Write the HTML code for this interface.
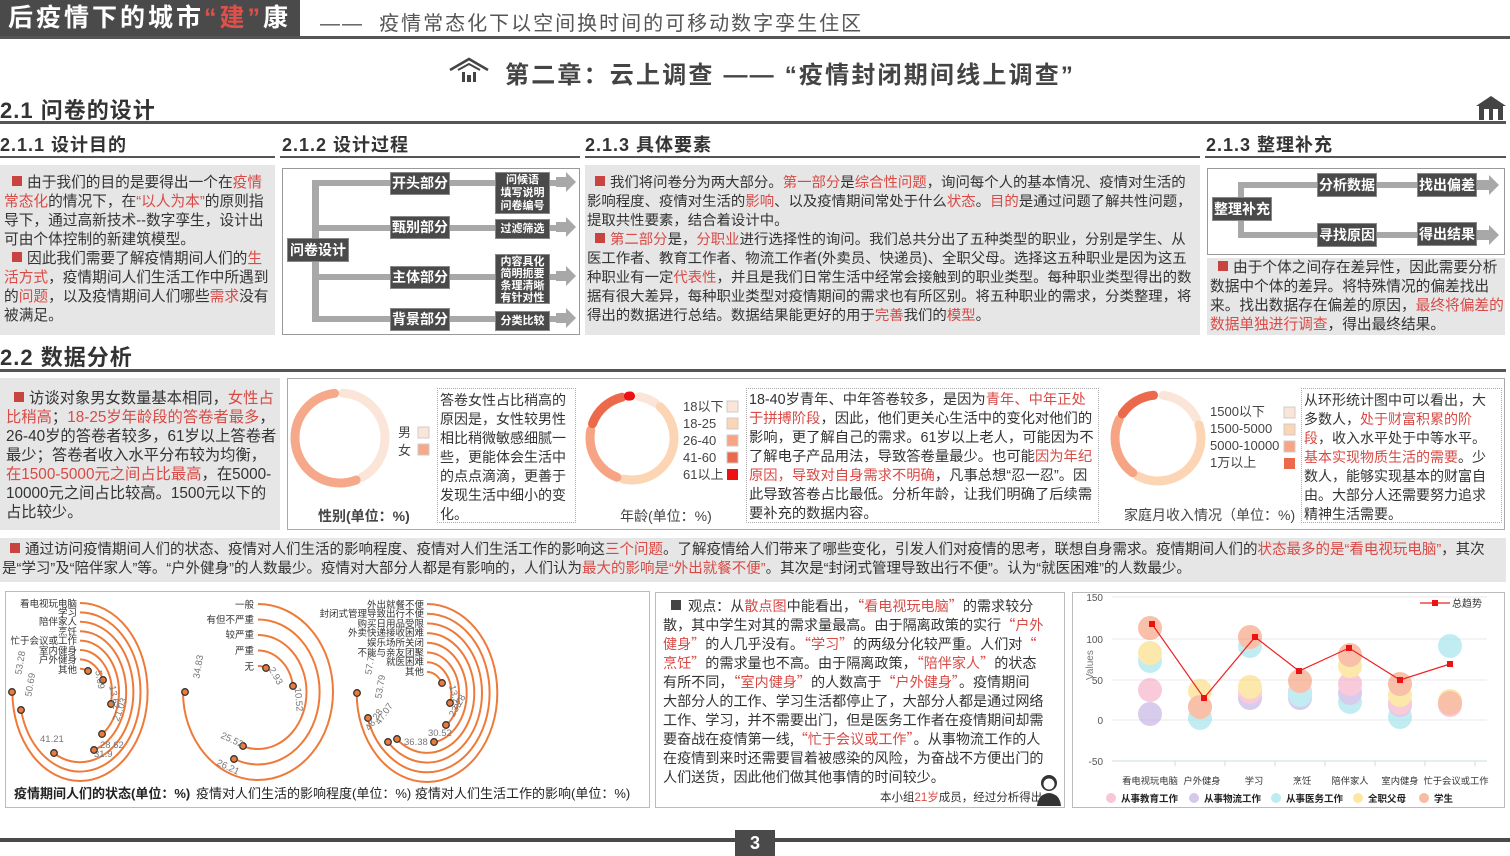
<!DOCTYPE html>
<html><head><meta charset="utf-8">
<style>
*{margin:0;padding:0;box-sizing:border-box}
body{width:1510px;height:856px;background:#fff;position:relative;overflow:hidden;font-family:"Liberation Sans","Noto Sans CJK SC",sans-serif;color:#333}
.a{position:absolute}
.r{color:#d94a45}
.t{font-size:14.5px;line-height:19px;color:#333}
.h2{font-size:22px;color:#333;letter-spacing:1px;font-weight:bold}
.h3{font-size:18px;color:#333;font-weight:bold;letter-spacing:1px}
.ln{position:absolute;background:#555}
.gb{background:#e6e6e6}
.sq{display:inline-block;width:10px;height:10px;background:#c9433f;margin:0 5px 1px 8px}
.fb{position:absolute;background:#4a4a4a;color:#fff;font-size:14px;font-weight:bold;text-align:center;border:1px solid #888}
.gr{position:absolute;background:#a8a8a8}
</style></head><body>

<!-- header -->
<div class="a" style="left:0;top:0;width:300px;height:37px;background:#4a4a4a;color:#fff;font-size:25px;font-weight:bold;line-height:37px;padding-left:8px;letter-spacing:3px">后疫情下的城市<span style="color:#e0504b">“建”</span>康</div>
<div class="a" style="left:320px;top:7px;font-size:20px;color:#555;letter-spacing:2px">——&nbsp;&nbsp;疫情常态化下以空间换时间的可移动数字孪生住区</div>
<div class="ln" style="left:0;top:36px;width:1510px;height:3px"></div>

<svg class="a" style="left:448px;top:56px" width="42" height="28" viewBox="0 0 42 28"><path d="M2 14 L21 3 L40 14" fill="none" stroke="#444" stroke-width="2.5"/><path d="M10 14 L21 8 L32 14" fill="none" stroke="#444" stroke-width="2"/><rect x="14" y="16" width="3" height="10" fill="#444"/><rect x="25" y="16" width="3" height="10" fill="#444"/><rect x="19" y="19" width="4" height="7" fill="#444"/></svg>
<div class="a" style="left:505px;top:55px;font-size:24px;font-weight:bold;color:#444;letter-spacing:2.2px">第二章：云上调查 —— “疫情封闭期间线上调查”</div>

<div class="a h2" style="left:0;top:93px">2.1 问卷的设计</div>
<svg class="a" style="left:1474px;top:94px" width="34" height="28"><path d="M2 12 L17 2 L32 12 Z" fill="#444"/><rect x="5" y="12" width="24" height="14" fill="#444"/><rect x="10" y="15" width="5" height="11" fill="#fff"/><rect x="19" y="15" width="5" height="11" fill="#fff"/></svg>
<div class="ln" style="left:0;top:121px;width:1506px;height:3px"></div>

<div class="a h3" style="left:0;top:131px">2.1.1 设计目的</div>
<div class="a h3" style="left:282px;top:131px">2.1.2 设计过程</div>
<div class="a h3" style="left:585px;top:131px">2.1.3 具体要素</div>
<div class="a h3" style="left:1206px;top:131px">2.1.3 整理补充</div>
<div class="ln" style="left:0;top:156px;width:275px;height:2px"></div>
<div class="ln" style="left:280px;top:156px;width:300px;height:2px"></div>
<div class="ln" style="left:585px;top:156px;width:615px;height:2px"></div>
<div class="ln" style="left:1205px;top:156px;width:301px;height:2px"></div>

<div class="a gb t" style="left:0;top:165px;width:275px;height:170px;padding:9px 3px 0 4px;font-size:14.7px"><span class="sq"></span>由于我们的目的是要得出一个在<span class="r">疫情常态化</span>的情况下，在<span class="r">“以人为本”</span>的原则指导下，通过高新技术--数字孪生，设计出可由个体控制的新建筑模型。<br><span class="sq"></span>因此我们需要了解疫情期间人们的<span class="r">生活方式</span>，疫情期间人们生活工作中所遇到的<span class="r">问题</span>，以及疫情期间人们哪些<span class="r">需求</span>没有被满足。</div>

<!-- flowchart 1 -->
<div class="a" style="left:282px;top:168px;width:298px;height:167px;border:1px solid #999"></div>
<div class="gr" style="left:312px;top:180px;width:7px;height:142px"></div>
<div class="gr" style="left:312px;top:180px;width:80px;height:6px"></div>
<div class="gr" style="left:312px;top:225px;width:80px;height:6px"></div>
<div class="gr" style="left:312px;top:274px;width:80px;height:6px"></div>
<div class="gr" style="left:312px;top:316px;width:80px;height:6px"></div>
<div class="gr" style="left:450px;top:180px;width:110px;height:6px"></div>
<div class="gr" style="left:450px;top:225px;width:110px;height:6px"></div>
<div class="gr" style="left:450px;top:274px;width:110px;height:6px"></div>
<div class="gr" style="left:450px;top:316px;width:110px;height:6px"></div>
<svg class="a" style="left:556px;top:172px" width="22" height="160"><path d="M0 5 L10 5 L10 0 L20 10 L10 20 L10 15 L0 15Z" fill="#a8a8a8"/><path d="M0 50 L10 50 L10 45 L20 55 L10 65 L10 60 L0 60Z" fill="#a8a8a8"/><path d="M0 99 L10 99 L10 94 L20 104 L10 114 L10 109 L0 109Z" fill="#a8a8a8"/><path d="M0 141 L10 141 L10 136 L20 146 L10 156 L10 151 L0 151Z" fill="#a8a8a8"/></svg>
<div class="fb" style="left:287px;top:238px;width:62px;height:24px;line-height:22px">问卷设计</div>
<div class="fb" style="left:390px;top:172px;width:60px;height:23px;line-height:21px">开头部分</div>
<div class="fb" style="left:390px;top:216px;width:60px;height:23px;line-height:21px">甄别部分</div>
<div class="fb" style="left:390px;top:266px;width:60px;height:23px;line-height:21px">主体部分</div>
<div class="fb" style="left:390px;top:308px;width:60px;height:23px;line-height:21px">背景部分</div>
<div class="fb" style="left:495px;top:172px;width:55px;height:42px;font-size:11px;line-height:13px;padding-top:1px">问候语<br>填写说明<br>问卷编号</div>
<div class="fb" style="left:495px;top:219px;width:55px;height:20px;font-size:11px;line-height:18px">过滤筛选</div>
<div class="fb" style="left:495px;top:254px;width:55px;height:50px;font-size:11px;line-height:12px;padding-top:1px">内容具化<br>简明扼要<br>条理清晰<br>有针对性</div>
<div class="fb" style="left:495px;top:311px;width:55px;height:20px;font-size:11px;line-height:18px">分类比较</div>

<div class="a gb t" style="left:585px;top:165px;width:615px;height:170px;padding:9px 3px 0 2px;font-size:14.4px"><span class="sq"></span>我们将问卷分为两大部分。<span class="r">第一部分</span>是<span class="r">综合性问题</span>，询问每个人的基本情况、疫情对生活的影响程度、疫情对生活的<span class="r">影响</span>、以及疫情期间常处于什么<span class="r">状态</span>。<span class="r">目的</span>是通过问题了解共性问题，提取共性要素，结合着设计中。<br><span class="sq"></span><span class="r">第二部分</span>是，<span class="r">分职业</span>进行选择性的询问。我们总共分出了五种类型的职业，分别是学生、从医工作者、教育工作者、物流工作者(外卖员、快递员)、全职父母。选择这五种职业是因为这五种职业有一定<span class="r">代表性</span>，并且是我们日常生活中经常会接触到的职业类型。每种职业类型得出的数据有很大差异，每种职业类型对疫情期间的需求也有所区别。将五种职业的需求，分类整理，将得出的数据进行总结。数据结果能更好的用于<span class="r">完善</span>我们的<span class="r">模型</span>。</div>

<!-- flowchart 2 -->
<div class="a" style="left:1207px;top:168px;width:298px;height:87px;border:1px solid #999"></div>
<div class="gr" style="left:1238px;top:183px;width:6px;height:55px"></div>
<div class="gr" style="left:1238px;top:182px;width:80px;height:6px"></div>
<div class="gr" style="left:1238px;top:232px;width:80px;height:6px"></div>
<div class="gr" style="left:1377px;top:182px;width:42px;height:6px"></div>
<div class="gr" style="left:1377px;top:232px;width:42px;height:6px"></div>
<svg class="a" style="left:1477px;top:175px" width="26" height="70"><path d="M0 5 L12 5 L12 0 L22 10 L12 20 L12 15 L0 15Z" fill="#a8a8a8"/><path d="M0 55 L12 55 L12 50 L22 60 L12 70 L12 65 L0 65Z" fill="#a8a8a8"/></svg>
<div class="fb" style="left:1212px;top:197px;width:60px;height:24px;line-height:22px">整理补充</div>
<div class="fb" style="left:1317px;top:173px;width:60px;height:24px;line-height:22px">分析数据</div>
<div class="fb" style="left:1317px;top:223px;width:60px;height:24px;line-height:22px">寻找原因</div>
<div class="fb" style="left:1417px;top:173px;width:60px;height:24px;line-height:22px">找出偏差</div>
<div class="fb" style="left:1417px;top:222px;width:60px;height:24px;line-height:22px">得出结果</div>
<div class="a gb t" style="left:1207px;top:258px;width:298px;height:77px;padding:1px 0 0 3px;font-size:14.7px"><span class="sq"></span>由于个体之间存在差异性，因此需要分析数据中个体的差异。将特殊情况的偏差找出来。找出数据存在偏差的原因，<span class="r">最终将偏差的数据单独进行调查</span>，得出最终结果。</div>

<div class="a h2" style="left:0;top:340px">2.2 数据分析</div>
<div class="ln" style="left:0;top:369px;width:1506px;height:3px"></div>

<div class="a gb t" style="left:0;top:378px;width:280px;height:152px;padding:11px 3px 0 6px;font-size:15.3px"><span class="sq"></span>访谈对象男女数量基本相同，<span class="r">女性占比稍高</span>；<span class="r">18-25岁年龄段的答卷者最多</span>，26-40岁的答卷者较多，61岁以上答卷者最少；答卷者收入水平分布较为均衡，<span class="r">在1500-5000元之间占比最高</span>，在5000-10000元之间占比较高。1500元以下的占比较少。</div>

<!-- donut row -->
<div class="a" style="left:287px;top:378px;width:1218px;height:152px;border:1px solid #aaa"></div>
<svg class="a" style="left:0;top:0" width="1510" height="856">
 <g fill="none" stroke-width="9" stroke-linecap="round">
  <circle cx="340" cy="438" r="45" transform="rotate(-90 340 438)" pathLength="360" stroke="#fbe5d8" stroke-dasharray="147 360" stroke-dashoffset="-4"/>
  <circle cx="340" cy="438" r="45" transform="rotate(-90 340 438)" pathLength="360" stroke="#f6a98a" stroke-dasharray="194 360" stroke-dashoffset="-159"/>
  <circle cx="632" cy="438" r="42" transform="rotate(-90 632 438)" pathLength="360" stroke="#fbe5d8" stroke-dasharray="24 360" stroke-dashoffset="-10"/>
  <circle cx="632" cy="438" r="42" transform="rotate(-90 632 438)" pathLength="360" stroke="#fcd5b5" stroke-dasharray="150 360" stroke-dashoffset="-42"/>
  <circle cx="632" cy="438" r="42" transform="rotate(-90 632 438)" pathLength="360" stroke="#f6a483" stroke-dasharray="80 360" stroke-dashoffset="-201"/>
  <circle cx="632" cy="438" r="42" transform="rotate(-90 632 438)" pathLength="360" stroke="#ec6a4c" stroke-dasharray="56 360" stroke-dashoffset="-290"/>
  <circle cx="632" cy="438" r="42" transform="rotate(-90 632 438)" pathLength="360" stroke="#ee1111" stroke-dasharray="3 360" stroke-dashoffset="-355"/>
  <circle cx="1158" cy="438" r="43" transform="rotate(-90 1158 438)" pathLength="360" stroke="#fbe5d8" stroke-dasharray="56 360" stroke-dashoffset="-7"/>
  <circle cx="1158" cy="438" r="43" transform="rotate(-90 1158 438)" pathLength="360" stroke="#fcd5b5" stroke-dasharray="136 360" stroke-dashoffset="-72"/>
  <circle cx="1158" cy="438" r="43" transform="rotate(-90 1158 438)" pathLength="360" stroke="#f6a483" stroke-dasharray="80 360" stroke-dashoffset="-216"/>
  <circle cx="1158" cy="438" r="43" transform="rotate(-90 1158 438)" pathLength="360" stroke="#ec6a4c" stroke-dasharray="50 360" stroke-dashoffset="-304"/>
 </g>
 <g font-size="13" fill="#444" font-family="Liberation Sans,Noto Sans CJK SC,sans-serif">
  <text x="398" y="437">男</text><rect x="418" y="427" width="11" height="11" fill="#fbe5d8" stroke="#ccc"/>
  <text x="398" y="455">女</text><rect x="418" y="444" width="11" height="11" fill="#f6a98a" stroke="#ccc"/>
  <text x="683" y="411">18以下</text><rect x="727" y="401" width="11" height="11" fill="#fbe5d8" stroke="#ccc"/>
  <text x="683" y="428">18-25</text><rect x="727" y="418" width="11" height="11" fill="#fcd5b5" stroke="#ccc"/>
  <text x="683" y="445">26-40</text><rect x="727" y="435" width="11" height="11" fill="#f6a483" stroke="#ccc"/>
  <text x="683" y="462">41-60</text><rect x="727" y="452" width="11" height="11" fill="#ec6a4c" stroke="#ccc"/>
  <text x="683" y="479">61以上</text><rect x="727" y="469" width="11" height="11" fill="#ee1111"/>
  <text x="1210" y="416">1500以下</text><rect x="1284" y="407" width="11" height="11" fill="#fbe5d8" stroke="#ccc"/>
  <text x="1210" y="433">1500-5000</text><rect x="1284" y="424" width="11" height="11" fill="#fcd5b5" stroke="#ccc"/>
  <text x="1210" y="450">5000-10000</text><rect x="1284" y="441" width="11" height="11" fill="#f6a483" stroke="#ccc"/>
  <text x="1210" y="467">1万以上</text><rect x="1284" y="458" width="11" height="11" fill="#ec6a4c"/>
  <text x="318" y="521" font-size="14" font-weight="bold">性别(单位：%)</text>
  <text x="620" y="521" font-size="14">年龄(单位：%)</text>
  <text x="1124" y="520" font-size="14">家庭月收入情况（单位：%)</text>
 </g>
</svg>
<div class="a t" style="left:437px;top:388px;width:139px;height:135px;border:1px dotted #aaa;padding:2px 2px;font-size:14px;line-height:19px">答卷女性占比稍高的原因是，女性较男性相比稍微敏感细腻一些，更能体会生活中的点点滴滴，更善于发现生活中细小的变化。</div>
<div class="a t" style="left:746px;top:388px;width:353px;height:135px;border:1px dotted #aaa;padding:2px 2px;font-size:14.3px;line-height:19px">18-40岁青年、中年答卷较多，是因为<span class="r">青年、中年正处于拼搏阶段</span>，因此，他们更关心生活中的变化对他们的影响，更了解自己的需求。61岁以上老人，可能因为不了解电子产品用法，导致答卷量最少。也可能<span class="r">因为年纪原因，导致对自身需求不明确</span>，凡事总想“忍一忍”。因此导致答卷占比最低。分析年龄，让我们明确了后续需要补充的数据内容。</div>
<div class="a t" style="left:1301px;top:388px;width:201px;height:135px;border:1px dotted #aaa;padding:2px 2px;font-size:14px;line-height:19px">从环形统计图中可以看出，大多数人，<span class="r">处于财富积累的阶段</span>，收入水平处于中等水平。<span class="r">基本实现物质生活的需要</span>。少数人，能够实现基本的财富自由。大部分人还需要努力追求精神生活需要。</div>

<div class="a gb t" style="left:0;top:538px;width:1506px;height:44px;padding:3px 2px 0 2px;font-size:14.5px;line-height:19px"><span class="sq"></span>通过访问疫情期间人们的状态、疫情对人们生活的影响程度、疫情对人们生活工作的影响这<span class="r">三个问题</span>。了解疫情给人们带来了哪些变化，引发人们对疫情的思考，联想自身需求。疫情期间人们的<span class="r">状态最多的是“看电视玩电脑”</span>，其次是“学习”及“陪伴家人”等。“户外健身”的人数最少。疫情对大部分人都是有影响的，人们认为<span class="r">最大的影响是“外出就餐不便”</span>。其次是“封闭式管理导致出行不便”。认为“就医困难”的人数最少。</div>

<!-- radial charts -->
<div class="a" style="left:5px;top:591px;width:645px;height:217px;border:1px solid #bbb"></div>
<svg class="a" style="left:0;top:0" width="1510" height="856" font-family="Liberation Sans,Noto Sans CJK SC,sans-serif">
 <g fill="none" stroke="#ee7a3a" stroke-width="2">
  <ellipse cx="80" cy="692" rx="89" ry="67.6" transform="rotate(-90 80 692)" pathLength="360" stroke-dasharray="270 400"/>
  <ellipse cx="80" cy="692" rx="79.6" ry="60.5" transform="rotate(-90 80 692)" pathLength="360" stroke-dasharray="257 400"/>
  <ellipse cx="80" cy="692" rx="70.2" ry="53.4" transform="rotate(-90 80 692)" pathLength="360" stroke-dasharray="209 400"/>
  <ellipse cx="80" cy="692" rx="60.8" ry="46.2" transform="rotate(-90 80 692)" pathLength="360" stroke-dasharray="162 400"/>
  <ellipse cx="80" cy="692" rx="51.4" ry="39" transform="rotate(-90 80 692)" pathLength="360" stroke-dasharray="145 400"/>
  <ellipse cx="80" cy="692" rx="42" ry="31.9" transform="rotate(-90 80 692)" pathLength="360" stroke-dasharray="107 400"/>
  <ellipse cx="80" cy="692" rx="32.6" ry="24.8" transform="rotate(-90 80 692)" pathLength="360" stroke-dasharray="69 400"/>
  <ellipse cx="80" cy="692" rx="23.2" ry="17.6" transform="rotate(-90 80 692)" pathLength="360" stroke-dasharray="29 400"/>
  <ellipse cx="258" cy="692" rx="88" ry="75" transform="rotate(-90 258 692)" pathLength="360" stroke-dasharray="270 400"/>
  <ellipse cx="258" cy="692" rx="72.5" ry="61.6" transform="rotate(-90 258 692)" pathLength="360" stroke-dasharray="203 400"/>
  <ellipse cx="258" cy="692" rx="57" ry="48.5" transform="rotate(-90 258 692)" pathLength="360" stroke-dasharray="198 400"/>
  <ellipse cx="258" cy="692" rx="41.5" ry="35.3" transform="rotate(-90 258 692)" pathLength="360" stroke-dasharray="81.5 400"/>
  <ellipse cx="258" cy="692" rx="26" ry="22" transform="rotate(-90 258 692)" pathLength="360" stroke-dasharray="22.7 400"/>
  <ellipse cx="427" cy="693" rx="89" ry="70.3" transform="rotate(-90 427 693)" pathLength="360" stroke-dasharray="270 400"/>
  <ellipse cx="427" cy="693" rx="79.3" ry="62.6" transform="rotate(-90 427 693)" pathLength="360" stroke-dasharray="251.4 400"/>
  <ellipse cx="427" cy="693" rx="69.6" ry="55" transform="rotate(-90 427 693)" pathLength="360" stroke-dasharray="225.7 400"/>
  <ellipse cx="427" cy="693" rx="59.9" ry="47.3" transform="rotate(-90 427 693)" pathLength="360" stroke-dasharray="220 400"/>
  <ellipse cx="427" cy="693" rx="50.2" ry="39.7" transform="rotate(-90 427 693)" pathLength="360" stroke-dasharray="170 400"/>
  <ellipse cx="427" cy="693" rx="40.5" ry="32" transform="rotate(-90 427 693)" pathLength="360" stroke-dasharray="142.7 400"/>
  <ellipse cx="427" cy="693" rx="30.8" ry="24.3" transform="rotate(-90 427 693)" pathLength="360" stroke-dasharray="108.8 400"/>
  <ellipse cx="427" cy="693" rx="21.1" ry="16.7" transform="rotate(-90 427 693)" pathLength="360" stroke-dasharray="62 400"/>
 </g>
 <g fill="#ee7a3a" stroke="#333" stroke-width="1.3">
  <circle cx="12" cy="692" r="3.3"/><circle cx="21" cy="710" r="3.3"/><circle cx="54" cy="753" r="3.3"/><circle cx="94" cy="750" r="3.3"/><circle cx="102" cy="734" r="3.3"/><circle cx="111" cy="704" r="3.3"/><circle cx="103" cy="680" r="3.3"/><circle cx="88" cy="671" r="3.3"/>
  <circle cx="185" cy="692" r="3.3"/><circle cx="234" cy="759" r="3.3"/><circle cx="243" cy="746" r="3.3"/><circle cx="293" cy="686" r="3.3"/><circle cx="266" cy="668" r="3.3"/>
  <circle cx="357" cy="693" r="3.3"/><circle cx="368" cy="718" r="3.3"/><circle cx="388" cy="742" r="3.3"/><circle cx="397" cy="739" r="3.3"/><circle cx="434" cy="742" r="3.3"/><circle cx="446" cy="725" r="3.3"/><circle cx="450" cy="703" r="3.3"/><circle cx="442" cy="683" r="3.3"/>
 </g>
 <g font-size="9.5" fill="#333" text-anchor="end">
  <text x="77" y="607">看电视玩电脑</text><text x="77" y="616">学习</text><text x="77" y="625">陪伴家人</text><text x="77" y="635">烹饪</text><text x="77" y="644">忙于会议或工作</text><text x="77" y="654">室内健身</text><text x="77" y="663">户外健身</text><text x="77" y="673">其他</text>
  <text x="254" y="608">一般</text><text x="254" y="623">有但不严重</text><text x="254" y="638">较严重</text><text x="254" y="654">严重</text><text x="254" y="670">无</text>
  <text x="424" y="608">外出就餐不便</text><text x="424" y="617">封闭式管理导致出行不便</text><text x="424" y="627">购买日用品受限</text><text x="424" y="636">外卖快递接收困难</text><text x="424" y="646">娱乐场所关闭</text><text x="424" y="656">不能与亲友团聚</text><text x="424" y="665">就医困难</text><text x="424" y="675">其他</text>
 </g>
 <g font-size="9.5" fill="#777">
  <text x="12" y="676" transform="rotate(-80 16 670)">53.28</text><text x="22" y="698" transform="rotate(-80 26 692)">50.69</text>
  <text x="40" y="742">41.21</text><text x="94" y="757">31.9</text><text x="100" y="748">28.62</text><text x="116" y="718" transform="rotate(-70 120 718)">21.03</text><text x="106" y="690" transform="rotate(80 110 690)">13.62</text><text x="92" y="675" transform="rotate(80 96 675)">5.69</text>
  <text x="190" y="680" transform="rotate(-80 194 674)">34.83</text><text x="216" y="771" transform="rotate(25 230 768)">26.21</text><text x="220" y="742" transform="rotate(25 230 740)">25.52</text><text x="291" y="692" transform="rotate(85 295 692)">10.52</text><text x="267" y="672" transform="rotate(60 270 672)">2.93</text>
  <text x="362" y="676" transform="rotate(-80 366 670)">57.76</text><text x="372" y="700" transform="rotate(-80 376 694)">53.79</text><text x="368" y="728" transform="rotate(-55 372 728)">48.28</text><text x="378" y="722" transform="rotate(-55 382 722)">47.07</text><text x="404" y="745">36.38</text><text x="428" y="736">30.52</text><text x="452" y="714" transform="rotate(-60 456 714)">23.28</text><text x="446" y="690" transform="rotate(75 450 690)">13.28</text>
 </g>
 <g font-size="13" fill="#222" font-weight="bold">
  <text x="14" y="798">疫情期间人们的状态(单位：%)</text>
  <text x="196" y="798" font-weight="normal">疫情对人们生活的影响程度(单位：%)</text>
  <text x="415" y="798" font-weight="normal">疫情对人们生活工作的影响(单位：%)</text>
 </g>
</svg>

<!-- opinion box -->
<div class="a" style="left:655px;top:592px;width:410px;height:216px;border:1px solid #bbb"></div>
<div class="a t" style="left:663px;top:597px;width:402px;font-family:'Noto Sans CJK SC','Liberation Sans',sans-serif;font-size:14.1px;line-height:19px;white-space:nowrap"><span style="display:inline-block;width:10px;height:10px;background:#444;margin:0 7px 1px 8px"></span>观点：从<span class="r">散点图</span>中能看出，<span class="r">“看电视玩电脑”</span>的需求较分<br>散，其中学生对其的需求量最高。由于隔离政策的实行<span class="r">“户外</span><br><span class="r">健身”</span>的人几乎没有。<span class="r">“学习”</span>的两级分化较严重。人们对<span class="r">“</span><br><span class="r">烹饪”</span>的需求量也不高。由于隔离政策，<span class="r">“陪伴家人”</span>的状态<br>有所不同，<span class="r">“室内健身”</span>的人数高于<span class="r">“户外健身”</span>。疫情期间<br>大部分人的工作、学习生活都停止了，大部分人都是通过网络<br>工作、学习，并不需要出门，但是医务工作者在疫情期间却需<br>要奋战在疫情第一线,<span class="r">“忙于会议或工作”</span>。从事物流工作的人<br>在疫情到来时还需要冒着被感染的风险，为奋战不方便出门的<br>人们送货，因此他们做其他事情的时间较少。</div>
<div class="a" style="left:880px;top:789px;font-size:11.5px;color:#333">本小组<span class="r">21岁</span>成员，经过分析得出</div>
<svg class="a" style="left:1036px;top:772px" width="26" height="34"><circle cx="13" cy="11" r="8" fill="#333"/><circle cx="13" cy="12" r="5.5" fill="#fff"/><path d="M1 34 Q2 22 13 21 Q24 22 25 34Z" fill="#333"/></svg>

<!-- scatter -->
<div class="a" style="left:1072px;top:592px;width:433px;height:216px;border:1px solid #bbb"></div>
<svg class="a" style="left:0;top:0" width="1510" height="856" font-family="Liberation Sans,Noto Sans CJK SC,sans-serif">
 <g stroke="#e8e8ee" stroke-width="1"><line x1="1112" y1="597" x2="1487" y2="597"/><line x1="1112" y1="639" x2="1487" y2="639"/><line x1="1112" y1="680" x2="1487" y2="680"/><line x1="1112" y1="720" x2="1487" y2="720"/><line x1="1112" y1="761" x2="1487" y2="761" stroke="#cdd"/></g>
 <g font-size="10" fill="#555" text-anchor="end"><text x="1103" y="601">150</text><text x="1103" y="643">100</text><text x="1103" y="684">50</text><text x="1103" y="724">0</text><text x="1103" y="765">-50</text></g>
 <text x="1083" y="690" font-size="10" fill="#777" transform="rotate(-90 1083 680)">Values</text>
 <g opacity="0.55">
  <circle cx="1150" cy="690" r="12" fill="#f3a0bd"/><circle cx="1150" cy="714" r="12" fill="#b9a3e0"/><circle cx="1150" cy="661" r="12" fill="#8fe0e8"/><circle cx="1150" cy="653" r="12" fill="#fbd766"/><circle cx="1150" cy="628" r="12" fill="#f58d63"/>
  <circle cx="1200" cy="707" r="12" fill="#b9a3e0"/><circle cx="1200" cy="718" r="12" fill="#8fe0e8"/><circle cx="1200" cy="691" r="12" fill="#fbd766"/><circle cx="1200" cy="707" r="12" fill="#f58d63"/>
  <circle cx="1250" cy="698" r="12" fill="#b9a3e0"/><circle cx="1250" cy="692" r="12" fill="#f3a0bd"/><circle cx="1250" cy="687" r="12" fill="#fbd766"/><circle cx="1250" cy="646" r="12" fill="#8fe0e8"/><circle cx="1250" cy="637" r="12" fill="#f58d63"/>
  <circle cx="1300" cy="698" r="12" fill="#b9a3e0"/><circle cx="1300" cy="692" r="12" fill="#f3a0bd"/><circle cx="1300" cy="695" r="12" fill="#8fe0e8"/><circle cx="1300" cy="681" r="12" fill="#f58d63"/>
  <circle cx="1350" cy="702" r="12" fill="#8fe0e8"/><circle cx="1350" cy="693" r="12" fill="#b9a3e0"/><circle cx="1350" cy="684" r="12" fill="#f3a0bd"/><circle cx="1350" cy="666" r="12" fill="#fbd766"/><circle cx="1350" cy="655" r="12" fill="#f58d63"/>
  <circle cx="1400" cy="717" r="12" fill="#8fe0e8"/><circle cx="1400" cy="705" r="12" fill="#b9a3e0"/><circle cx="1400" cy="703" r="12" fill="#f3a0bd"/><circle cx="1400" cy="695" r="12" fill="#fbd766"/><circle cx="1400" cy="684" r="12" fill="#f58d63"/>
  <circle cx="1450" cy="705" r="12" fill="#f3a0bd"/><circle cx="1450" cy="701" r="12" fill="#fbd766"/><circle cx="1450" cy="703" r="12" fill="#f58d63"/><circle cx="1450" cy="646" r="12" fill="#8fe0e8"/>
 </g>
 <polyline points="1152,624 1204,698 1255,637 1299,671 1349,648 1400,680 1450,664" fill="none" stroke="#ee2222" stroke-width="1.2"/>
 <g fill="#ee1111"><rect x="1149" y="621" width="6" height="6"/><rect x="1201" y="695" width="6" height="6"/><rect x="1252" y="634" width="6" height="6"/><rect x="1296" y="668" width="6" height="6"/><rect x="1346" y="645" width="6" height="6"/><rect x="1397" y="677" width="6" height="6"/><rect x="1447" y="661" width="6" height="6"/></g>
 <line x1="1420" y1="603" x2="1450" y2="603" stroke="#ee2222" stroke-width="1.2"/><rect x="1432" y="600" width="6" height="6" fill="#ee1111"/>
 <text x="1452" y="607" font-size="10" fill="#333">总趋势</text>
 <g stroke="#cdd"><line x1="1175" y1="761" x2="1175" y2="766"/><line x1="1225" y1="761" x2="1225" y2="766"/><line x1="1275" y1="761" x2="1275" y2="766"/><line x1="1325" y1="761" x2="1325" y2="766"/><line x1="1375" y1="761" x2="1375" y2="766"/><line x1="1425" y1="761" x2="1425" y2="766"/><line x1="1475" y1="761" x2="1475" y2="766"/></g>
 <g font-size="9.3" fill="#333" text-anchor="middle"><text x="1150" y="784">看电视玩电脑</text><text x="1202" y="784">户外健身</text><text x="1254" y="784">学习</text><text x="1302" y="784">烹饪</text><text x="1350" y="784">陪伴家人</text><text x="1400" y="784">室内健身</text><text x="1456" y="784">忙于会议或工作</text></g>
 <g font-size="9.5" fill="#222" font-weight="bold">
  <circle cx="1111" cy="798" r="5" fill="#f3a0bd" opacity=".6"/><text x="1121" y="802">从事教育工作</text>
  <circle cx="1194" cy="798" r="5" fill="#b9a3e0" opacity=".6"/><text x="1204" y="802">从事物流工作</text>
  <circle cx="1276" cy="798" r="5" fill="#8fe0e8" opacity=".6"/><text x="1286" y="802">从事医务工作</text>
  <circle cx="1358" cy="798" r="5" fill="#fbd766" opacity=".6"/><text x="1368" y="802">全职父母</text>
  <circle cx="1424" cy="798" r="5" fill="#f58d63" opacity=".6"/><text x="1434" y="802">学生</text>
 </g>
</svg>

<!-- footer -->
<div class="ln" style="left:0;top:838px;width:1510px;height:4px;background:#4a4a4a"></div>
<div class="a" style="left:735px;top:830px;width:40px;height:26px;background:#4a4a4a;color:#fff;font-size:18px;font-weight:bold;text-align:center;line-height:26px">3</div>
</body></html>
